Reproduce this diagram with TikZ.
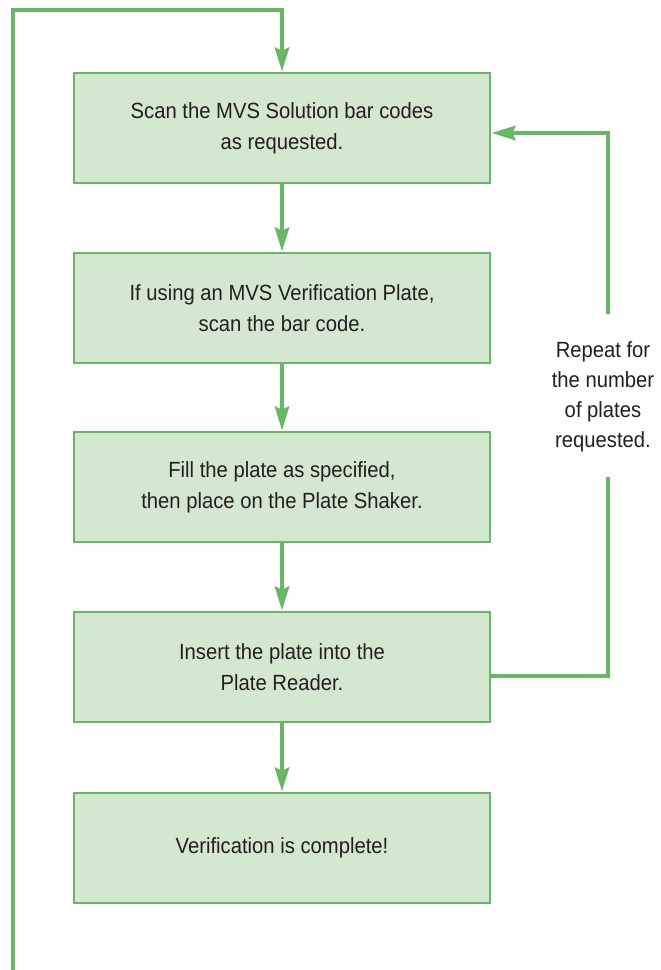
\documentclass[tikz,border=0pt]{standalone}
\usepackage{fontspec}
\setmainfont[FakeStretch=0.92]{Liberation Sans}
\usetikzlibrary{arrows.meta}
\definecolor{flowgreen}{RGB}{104,183,101}
\definecolor{boxfill}{RGB}{211,232,207}
\definecolor{textgray}{RGB}{35,31,32}

\begin{document}
\begin{tikzpicture}[x=.5pt,y=-.5pt,
	stepbox/.style={draw=flowgreen,fill=boxfill,line width=1.3pt,minimum width=208pt,minimum height=55pt,align=center,font=\fontsize{11}{15.5}\selectfont,text=textgray},
	flow/.style={draw=flowgreen,line width=2.3pt,-{Stealth[length=12pt,width=7pt,inset=1.5pt]}},
	loop/.style={draw=flowgreen,line width=2.3pt}]
	\useasboundingbox (0,0) rectangle (660,970);
	
	\node[stepbox] (scan) at (282,128){Scan the MVS Solution bar codes\\as requested.};
	\node[stepbox] (barcode) at (282,308){If using an MVS Verification Plate,\\scan the bar code.};
	\node[stepbox] (fillplate) at (282,487){Fill the plate as specified,\\then place on the Plate Shaker.};
	\node[stepbox] (insert) at (282,667){Insert the plate into the\\Plate Reader.};
	\node[stepbox] (done) at (282,848){Verification is complete!};
	\node[align=center,text=textgray,font=\fontsize{11}{15}\selectfont] (repeat) at (603,397){Repeat for\\the number\\of plates\\requested.};
	
	\draw[flow] (scan) -- (barcode);
	\draw[flow] (barcode) -- (fillplate);
	\draw[flow] (fillplate) -- (insert);
	\draw[flow] (insert) -- (done);
	
	% outer loop back to the top
	\coordinate (loopstart) at (13,970);
	\coordinate (loopcorner) at (13,10);
	\draw[flow] (loopstart) -- (loopcorner) -| (scan.north);
	
	% repeat loop
	\coordinate (repbot) at (608,676);
	\coordinate (repgapb) at (608,477);
	\coordinate (repgapt) at (608,314);
	\coordinate (reptop) at (608,133);
	\draw[loop] (insert.east |- repbot) -- (repbot) -- (repgapb);
	\draw[flow] (repgapt) -- (reptop) -- (scan.east |- reptop);
\end{tikzpicture}
\end{document}
